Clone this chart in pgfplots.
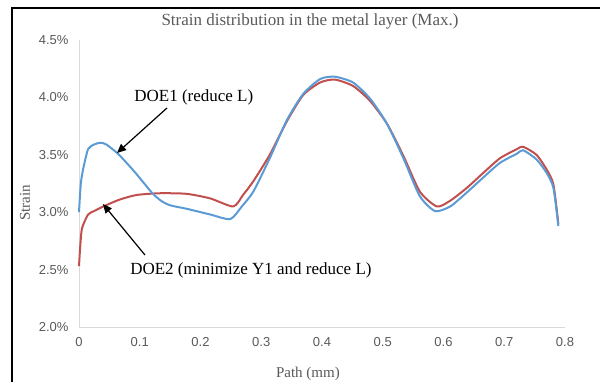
\documentclass[border=0pt]{standalone}
\usepackage{pgfplots}
\pgfplotsset{compat=1.18}
\usepackage{fontspec}
\setmainfont{Liberation Serif}
\newfontfamily\arial{Liberation Sans}
\usetikzlibrary{arrows.meta}
\definecolor{blueS}{RGB}{91,155,213}
\definecolor{redS}{RGB}{192,80,77}
\definecolor{txtgray}{RGB}{89,89,89}
\definecolor{axgray}{RGB}{217,217,217}
\begin{document}
\begin{tikzpicture}[x=1pt,y=1pt]
\useasboundingbox (0,0) rectangle (600,382);
\draw[black, line width=2pt] (12,0) -- (12,374) -- (601,374);
\begin{axis}[
  at={(79pt,55pt)}, anchor=south west,
  scale only axis, width=486pt, height=287pt,
  xmin=0, xmax=0.8, ymin=2.0, ymax=4.5,
  axis x line=bottom, axis y line=left,
  axis line style={-, draw=axgray, line width=0.8pt},
  xtick={0,0.1,0.2,0.3,0.4,0.5,0.6,0.7,0.8},
  xticklabels={0,0.1,0.2,0.3,0.4,0.5,0.6,0.7,0.8},
  ytick={2.0,2.5,3.0,3.5,4.0,4.5},
  yticklabels={2.0\%,2.5\%,3.0\%,3.5\%,4.0\%,4.5\%},
  major tick length=0pt,
  tick label style={font=\arial\fontsize{13}{15}\selectfont, text=txtgray},
  xticklabel style={yshift=-7pt},
  yticklabel style={xshift=-7pt},
  xlabel={Path (mm)},
  xlabel style={at={(axis description cs:0.471,-0.157)}, anchor=center, yshift=-2pt, font=\fontsize{15}{18}\selectfont, text=txtgray},
  ylabel={Strain},
  ylabel style={at={(axis description cs:-0.111,0.432)}, anchor=center, font=\fontsize{15}{18}\selectfont, text=txtgray},
  clip=false,
]
\addplot[redS, line width=2pt, smooth, tension=0.4] coordinates {
(0,2.53) (0.002,2.70) (0.005,2.86) (0.015,2.98) (0.025,3.01) (0.04,3.05)
(0.067,3.11) (0.095,3.15) (0.133,3.165) (0.177,3.16) (0.216,3.12) (0.254,3.05)
(0.270,3.15) (0.287,3.27) (0.314,3.50) (0.342,3.79) (0.369,4.02) (0.397,4.13)
(0.421,4.155) (0.451,4.10) (0.479,3.97) (0.507,3.77) (0.534,3.49) (0.561,3.18)
(0.589,3.05) (0.611,3.10) (0.638,3.21) (0.665,3.34) (0.693,3.47) (0.721,3.55)
(0.731,3.57) (0.753,3.50) (0.770,3.37) (0.781,3.24) (0.789,2.90)
};
\addplot[blueS, line width=2pt, smooth, tension=0.4] coordinates {
(0,3.00) (0.003,3.25) (0.007,3.38) (0.015,3.55) (0.025,3.59) (0.035,3.605)
(0.045,3.59) (0.064,3.51) (0.08,3.42) (0.095,3.33) (0.12,3.17) (0.135,3.10)
(0.15,3.06) (0.177,3.03) (0.216,2.98) (0.249,2.94) (0.268,3.05) (0.287,3.18)
(0.314,3.47) (0.342,3.80) (0.369,4.03) (0.397,4.16) (0.421,4.18) (0.451,4.13)
(0.479,3.99) (0.507,3.77) (0.534,3.47) (0.561,3.14) (0.586,3.01) (0.611,3.05)
(0.638,3.17) (0.665,3.30) (0.693,3.43) (0.721,3.51) (0.731,3.54) (0.753,3.46)
(0.770,3.34) (0.781,3.21) (0.789,2.88)
};
\node[font=\fontsize{17}{20}\selectfont] at (axis cs:0.189,4.004) {DOE1 (reduce L)};
\node[font=\fontsize{17}{20}\selectfont] at (axis cs:0.283,2.497) {DOE2 (minimize Y1 and reduce L)};
\draw[black, line width=1.2pt, -{Triangle[length=9pt,width=8pt]}] (axis cs:0.1449,3.908) -- (axis cs:0.0626,3.516);
\draw[black, line width=1.2pt, -{Triangle[length=9pt,width=8pt]}] (axis cs:0.1086,2.627) -- (axis cs:0.0395,3.071);
\end{axis}
\node[font=\fontsize{17}{20}\selectfont, text=txtgray, anchor=center] at (310,361) {Strain distribution in the metal layer (Max.)};
\end{tikzpicture}
\end{document}
